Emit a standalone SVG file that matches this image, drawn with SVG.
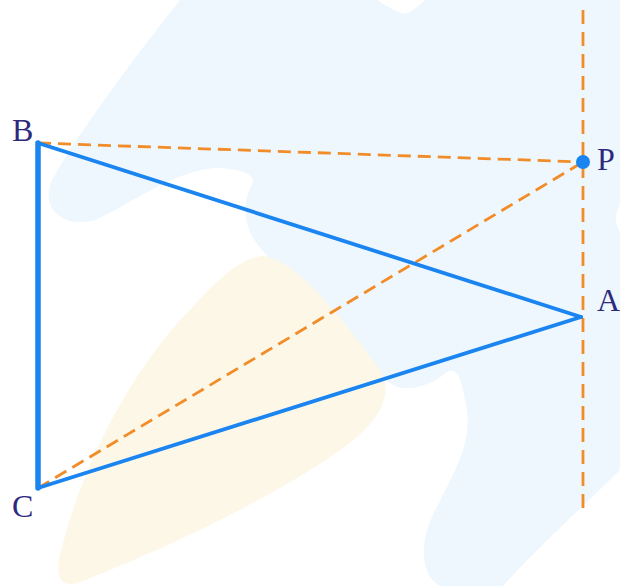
<svg xmlns="http://www.w3.org/2000/svg" width="620" height="586" viewBox="0 0 620 586">
<style>
.lbl{font-family:"Liberation Serif","Times New Roman",serif;font-size:32px;fill:#2d2a7e}
.edge{stroke:#1a84f0;fill:none;stroke-linecap:round}
.dash{stroke:#f28c28;fill:none;stroke-width:2.8;stroke-dasharray:13 7}
</style>
<rect width="620" height="586" fill="#ffffff"/>
<g id="background">
<path fill="#eef7fd" d="M 180 0 L 377 0 Q 395 12 405 14 Q 415 10 425 0 L 620 0 L 620 205 Q 612 218 620 232 L 620 470 C 590 500, 540 545, 503 586 L 440 586 C 420 575, 418 540, 437 507 C 455 470, 475 440, 465 400 C 462 380, 457 366, 447 372 C 432 385, 410 392, 395 386 C 370 370, 300 295, 262 250 C 245 232, 240 205, 252 185 C 258 175, 240 168, 215 168 C 170 172, 130 205, 95 220 C 60 230, 40 205, 52 180 C 80 130, 140 50, 180 0 Z"/>
<path fill="#fdf7e8" d="M 262 256 C 290 258, 330 300, 380 370 C 395 395, 380 425, 330 457 C 260 505, 150 555, 80 582 C 60 590, 55 575, 60 555 C 80 470, 130 370, 190 310 C 215 282, 240 258, 262 256 Z"/>
</g>
<g id="connectors">
<line class="dash" x1="583" y1="10" x2="583" y2="515" style="stroke-dasharray:14 8"/>
<line class="dash" x1="38" y1="143" x2="583" y2="162"/>
<line class="dash" x1="38" y1="488" x2="583" y2="162"/>
<line class="edge" x1="38" y1="143" x2="38" y2="488" stroke-width="5.5"/>
<line class="edge" x1="38" y1="143" x2="581" y2="317" stroke-width="3.8"/>
<line class="edge" x1="38" y1="488" x2="581" y2="317" stroke-width="3.8"/>
</g>
<g id="node-B"><text class="lbl" x="12" y="141">B</text></g>
<g id="node-C"><text class="lbl" x="12" y="517">C</text></g>
<g id="node-A"><text class="lbl" x="597" y="311">A</text></g>
<g id="node-P"><circle cx="583" cy="162" r="7" fill="#1a84f0"/><text class="lbl" x="597" y="170">P</text></g>
</svg>
